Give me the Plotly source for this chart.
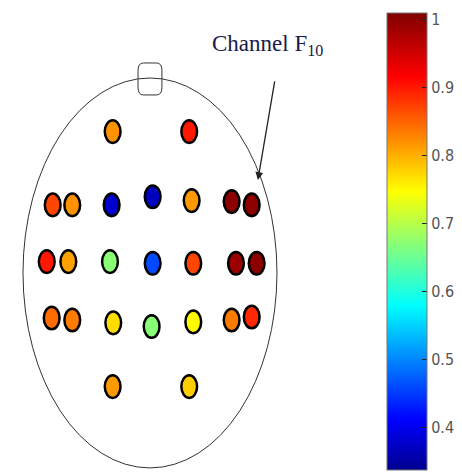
import plotly.graph_objects as go
from plotly.colors import sample_colorscale

# Electrode positions in head units (head = unit circle, stretched by the axes)
chan_x = [-0.294, 0.309,
          -0.766, -0.612, -0.302, 0.021, 0.328, 0.643, 0.801,
          -0.813, -0.643, -0.315, 0.021, 0.341, 0.677, 0.840,
          -0.774, -0.612, -0.289, 0.013, 0.341, 0.643, 0.801,
          -0.294, 0.309]
chan_y = [0.725, 0.725,
          0.349, 0.349, 0.349, 0.391, 0.371, 0.366, 0.349,
          0.058, 0.058, 0.058, 0.050, 0.050, 0.050, 0.050,
          -0.231, -0.241, -0.256, -0.275, -0.251, -0.241, -0.226,
          -0.583, -0.583]
chan_val = [0.82, 0.90,
            0.87, 0.82, 0.38, 0.37, 0.815, 1.0, 1.0,
            0.90, 0.81, 0.67, 0.46, 0.87, 0.99, 1.0,
            0.845, 0.834, 0.77, 0.67, 0.75, 0.835, 0.89,
            0.815, 0.78]

cmin, cmax = 0.338, 1.01
cbar_ticks = [0.4, 0.5, 0.6, 0.7, 0.8, 0.9, 1]
cbar_labels = ["0.4", "0.5", "0.6", "0.7", "0.8", "0.9", "1"]

jet = [[0.0, "rgb(0,0,143)"], [0.11, "rgb(0,0,255)"], [0.36, "rgb(0,255,255)"],
       [0.61, "rgb(255,255,0)"], [0.86, "rgb(255,0,0)"], [1.0, "rgb(128,0,0)"]]

# electrode ellipse half sizes (style)
hw, hh = 0.062, 0.058

# page body has an 8px margin: figure is 454x464 placed at (8,8)
W, H, OFF = 454, 464, 8
CB_LEFT, CB_TOP, CB_LEN, CB_THICK = 387, 13, 457, 40

fig = go.Figure()

fig.add_trace(go.Scatter(
    x=chan_x, y=chan_y, mode="markers",
    marker=dict(size=2, color=chan_val, colorscale=jet, cmin=cmin, cmax=cmax,
                opacity=0,
                colorbar=dict(
                    x=(CB_LEFT - OFF) / W, xanchor="left", xpad=0,
                    y=1 - (CB_TOP - OFF) / H, yanchor="top", ypad=0,
                    len=CB_LEN, lenmode="pixels", thickness=CB_THICK,
                    outlinewidth=1, outlinecolor="#777",
                    tickvals=cbar_ticks, ticktext=cbar_labels,
                    ticks="inside", ticklen=5, tickcolor="#222",
                    ticklabeloverflow="allow",
                    tickfont=dict(family="Liberation Sans Narrow, DejaVu Sans Condensed, Liberation Sans",
                                  size=16, color="#555"),
                )),
    hoverinfo="skip", showlegend=False,
))

shapes = []
# head
shapes.append(dict(type="circle", xref="x", yref="y", x0=-1, x1=1, y0=-1, y1=1,
                   line=dict(color="#333", width=1)))
# nose (rounded)
shapes.append(dict(type="path", xref="x", yref="y",
                   path="M -0.05 1.077 L 0.05 1.077 Q 0.094 1.077 0.094 1.04 L 0.094 0.95 "
                        "Q 0.094 0.913 0.05 0.913 L -0.05 0.913 Q -0.094 0.913 -0.094 0.95 "
                        "L -0.094 1.04 Q -0.094 1.077 -0.05 1.077 Z",
                   line=dict(color="#333", width=1), fillcolor="rgba(0,0,0,0)"))

# inner tick marks on the left edge of the colorbar (mirroring the right ticks)
cb_top_p = 1 - (CB_TOP - OFF) / H
cb_bot_p = cb_top_p - CB_LEN / H
xl = (CB_LEFT - OFF + 1) / W
for v in cbar_ticks[:-1]:
    yp = cb_bot_p + (v - cmin) / (cmax - cmin) * (cb_top_p - cb_bot_p)
    shapes.append(dict(type="line", xref="paper", yref="paper",
                       x0=xl, x1=xl + 5 / W, y0=yp, y1=yp,
                       line=dict(color="#222", width=1)))

cols = sample_colorscale(jet, [(v - cmin) / (cmax - cmin) for v in chan_val])
for x, y, c in zip(chan_x, chan_y, cols):
    shapes.append(dict(type="circle", xref="x", yref="y",
                       x0=x - hw, x1=x + hw, y0=y - hh, y1=y + hh,
                       fillcolor=c, line=dict(color="black", width=2.5)))

fig.update_layout(
    width=W, height=H,
    margin=dict(l=0, r=0, t=0, b=0, autoexpand=False),
    paper_bgcolor="white", plot_bgcolor="white",
    xaxis=dict(range=[-1.118, 2.457], visible=False, fixedrange=True),
    yaxis=dict(range=[-1.021, 1.359], visible=False, fixedrange=True),
    shapes=shapes,
    annotations=[
        dict(x=0.850, y=0.477, ax=0.984, ay=0.990, xref="x", yref="y", axref="x", ayref="y",
             text="", showarrow=True, arrowhead=2, arrowsize=1.2, arrowwidth=1.3,
             arrowcolor="#222"),
        dict(x=0.925, y=1.169, xref="x", yref="y", text="Channel F<sub>10</sub>",
             showarrow=False, font=dict(family="Liberation Serif, Times New Roman, serif",
                                        size=23, color="#1a1a4a")),
    ],
)

fig.write_html("out.html")
